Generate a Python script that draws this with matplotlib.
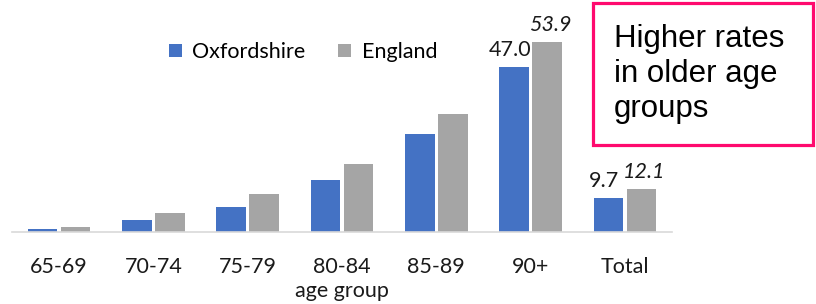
import matplotlib
matplotlib.use("Agg")
import matplotlib.pyplot as plt
import numpy as np
from matplotlib.patches import Rectangle

age_groups = ["65-69", "70-74", "75-79", "80-84", "85-89", "90+", "Total"]
oxfordshire = [0.85, 3.2, 7.1, 14.8, 27.9, 47.0, 9.7]
england = [1.4, 5.3, 10.7, 19.4, 33.4, 53.9, 12.1]

BLUE = "#4472C4"
GREY = "#A5A5A5"
PINK = "#FF0A6E"

W, H = 816, 304
fig = plt.figure(figsize=(W / 100, H / 100), dpi=100)
ax = fig.add_axes([12 / W, 72.3 / H, 660 / W, 60 * 3.514 / H])

x = np.arange(len(age_groups))
bw = 0.314
off = 0.175
ax.bar(x - off, oxfordshire, bw, color=BLUE, label="Oxfordshire")
ax.bar(x + off, england, bw, color=GREY, label="England")

ax.set_xlim(-0.5, len(age_groups) - 0.5)
ax.set_ylim(0, 60)
ax.set_yticks([])
for s in ["top", "right", "left"]:
    ax.spines[s].set_visible(False)
ax.spines["bottom"].set_color("#D9D9D9")
ax.spines["bottom"].set_linewidth(1.2)
ax.set_xticks(x)
ax.set_xticklabels(age_groups, fontsize=15.5, family="Lato", color="#1a1a1a")
ax.tick_params(axis="x", length=0, pad=18)

# data labels for 90+ and Total
for i in [5, 6]:
    ax.annotate(f"{oxfordshire[i]:.1f}", (x[i] - off, oxfordshire[i]), xytext=(-3, 5),
                textcoords="offset points", ha="center", va="bottom",
                fontsize=15.5, family="Lato", color="#1a1a1a")
    ax.annotate(f"{england[i]:.1f}", (x[i] + off, england[i]), xytext=(2, 5),
                textcoords="offset points", ha="center", va="bottom",
                fontsize=15.5, family="Lato", style="italic", color="#1a1a1a")

fig.text(342 / W, 1 - 291 / H, "age group", ha="center", va="center",
         fontsize=15.5, family="Lato", color="#1a1a1a")

fig.legend(loc="center", bbox_to_anchor=(303 / W, 1 - 52 / H), ncol=2, frameon=False,
           prop={"family": "Lato", "size": 15.5}, handlelength=0.6, handleheight=0.6,
           handletextpad=0.5, columnspacing=1.5)

fig.add_artist(Rectangle((593 / W, 1 - 145 / H), 220 / W, 142 / H, transform=fig.transFigure,
                         fill=False, edgecolor=PINK, linewidth=2.3))
fig.text(614 / W, 1 - 24 / H, "Higher rates\nin older age\ngroups", ha="left", va="top",
         fontsize=22.5, family="Liberation Sans", linespacing=1.22, color="black")

fig.savefig("out.png", dpi=100)
